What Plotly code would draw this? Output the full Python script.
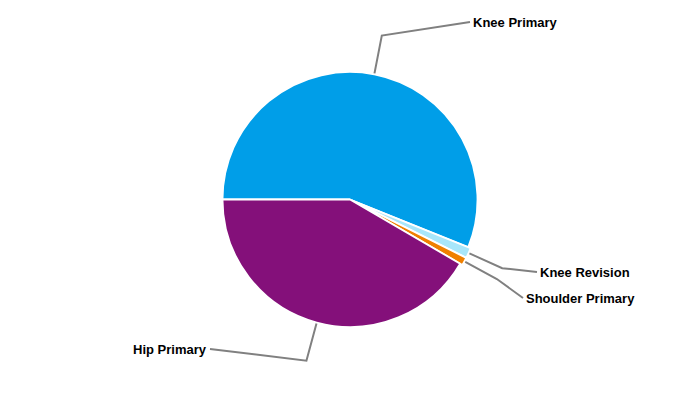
import math
import plotly.graph_objects as go

# ---- data ----
categories = ["Knee Primary", "Knee Revision", "Shoulder Primary", "Hip Primary"]
values = [56.1, 1.3, 1.0, 41.6]
colors = ["#009EE8", "#A8E6FA", "#F08000", "#84107A"]
pulls = [0, 0.02, 0.02, 0]

# ---- layout parameters ----
W, H = 700, 400
CX, CY = 350, 199.5       # pie centre in px
R = 127.5                 # pie radius in px
START_DEG = 180           # first slice starts at 9 o'clock, clockwise
ELBOW = 1.31              # elbow radius factor for leader lines
# label anchor (px) and side
label_pos = {
    "Knee Primary": (470, 22, "left"),
    "Knee Revision": (537, 272, "left"),
    "Shoulder Primary": (523, 298, "left"),
    "Hip Primary": (210, 349, "right"),
}

maxpull = max(pulls)
side = 2 * R * (1 + maxpull)
domain_x = [(CX - side / 2) / W, (CX + side / 2) / W]
domain_y = [1 - (CY + side / 2) / H, 1 - (CY - side / 2) / H]

fig = go.Figure(go.Pie(
    labels=categories, values=values, sort=False, direction="clockwise",
    rotation=-90, pull=pulls, textinfo="none", hoverinfo="label+percent",
    marker=dict(colors=colors, line=dict(color="white", width=1.8)),
    domain=dict(x=domain_x, y=domain_y), showlegend=False,
))

def to_paper(px, py):
    return px / W, 1 - py / H

total = sum(values)
cum = 0
shapes, annotations = [], []
for cat, v, p in zip(categories, values, pulls):
    mid = START_DEG - (cum + v / 2) / total * 360
    cum += v
    a = math.radians(mid)
    r0 = R * (1 + p) + 1
    sx, sy = CX + r0 * math.cos(a), CY - r0 * math.sin(a)
    ex, ey = CX + R * ELBOW * math.cos(a), CY - R * ELBOW * math.sin(a)
    lx, ly, align = label_pos[cat]
    pts = [to_paper(sx, sy), to_paper(ex, ey), to_paper(lx, ly)]
    path = "M {} {} L {} {} L {} {}".format(*[c for pt in pts for c in pt])
    shapes.append(dict(type="path", path=path, xref="paper", yref="paper",
                       line=dict(color="#808080", width=2)))
    tx, ty = to_paper(lx + (1 if align == "left" else -1), ly)
    annotations.append(dict(
        x=tx, y=ty, xref="paper", yref="paper", text="<b>%s</b>" % cat,
        showarrow=False, xanchor=align, yanchor="middle",
        font=dict(family="Liberation Sans, Arial, sans-serif", size=13, color="#000000"),
    ))

fig.update_layout(
    width=W, height=H, margin=dict(l=0, r=0, t=0, b=0),
    paper_bgcolor="white", plot_bgcolor="white",
    shapes=shapes, annotations=annotations,
)

fig.write_html("out.html", config={"displayModeBar": False},
               post_script="document.body.style.margin='0';")
